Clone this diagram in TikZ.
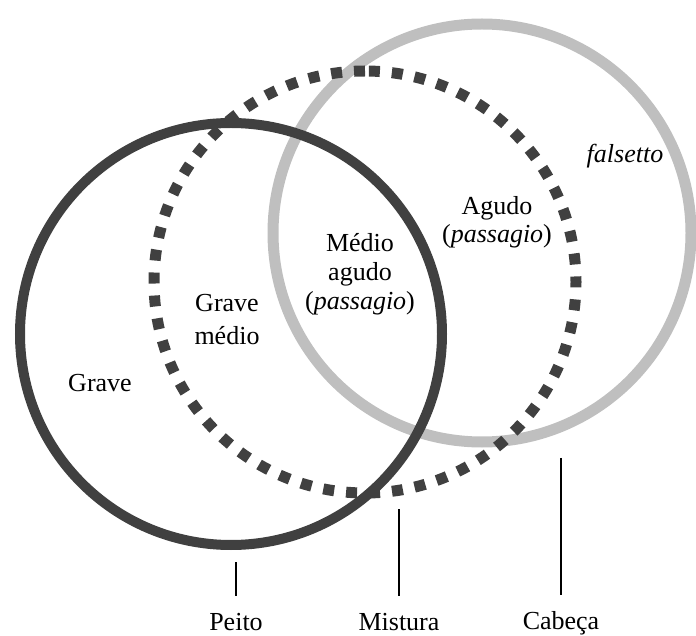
\documentclass[tikz,border=0pt]{standalone}
\usepackage{fontspec}
\setmainfont{Liberation Serif}
\usetikzlibrary{positioning}

\begin{document}
\begin{tikzpicture}[x=1pt,y=1pt,
		ring/.style={circle,draw,inner sep=0pt,minimum size=422pt},
		txt/.style={draw=none,fill=none,inner sep=0pt,align=center,anchor=base,font=\fontsize{26}{29}\selectfont},
		tick/.style={line width=1.3pt}]
			\useasboundingbox (0,0) rectangle (696,635);

			\node[ring,draw=black!25,line width=11pt,minimum size=418pt]  (cabeca)  at (482,402) {};
			\node[ring,draw=black!75,line width=10pt]  (peito)  at (231,301) {};
			\node[ring,draw=black!75,line width=11pt,dash pattern=on 11pt off 12pt,rotate=90]  (mistura)  at (365,353) {};

			% multi-line nodes sit on their last baseline
			\node[txt]  (grave)  at (100,243) {Grave};
			\node[txt]  (gravemedio)  at (227,290) {Grave\\[4pt]médio};
			\node[txt]  (medioagudo)  at (360,325) {Médio\\agudo\\(\textit{passagio})};
			\node[txt]  (agudo)  at (497,392) {Agudo\\[-1pt](\textit{passagio})};
			\node[txt]  (falsetto)  at (625,472) {\textit{falsetto}};

			\node[txt]  (lpeito)  at (236,5) {Peito};
			\node[txt]  (lmistura)  at (399,5) {Mistura};
			\node[txt]  (lcabeca)  at (561,6) {Cabeça};

			\coordinate (tpeito) at (236,73);
			\coordinate (tmistura) at (399,126);
			\coordinate (tcabeca) at (561,177);

			\draw[tick,shorten >=17pt] (tpeito) -- (lpeito);
			\draw[tick,shorten >=17pt] (tmistura) -- (lmistura);
			\draw[tick,shorten >=16pt] (tcabeca) -- (lcabeca);
		\end{tikzpicture}
\end{document}
